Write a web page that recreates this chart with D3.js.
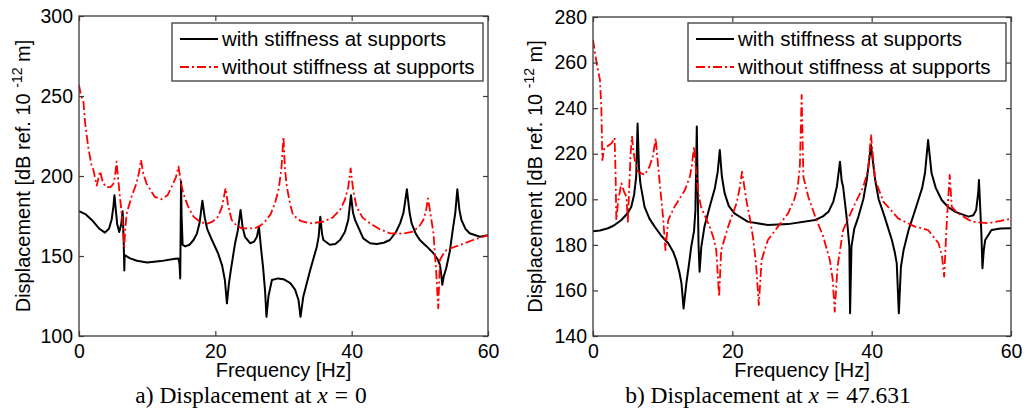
<!DOCTYPE html>
<html>
<head>
<meta charset="utf-8">
<script src="https://cdnjs.cloudflare.com/ajax/libs/d3/7.8.5/d3.min.js"></script>
<style>
  body { margin: 0; background: #fff; }
  text { font-family: "Liberation Sans", Arial, sans-serif; fill: #000; }
</style>
</head>
<body>
<div id="chart"></div>
<script>
// ---- data: [frequency Hz, displacement dB] ----
const xTicks = [0, 20, 40, 60];
const yTicksA = [100, 150, 200, 250, 300];
const yTicksB = [140, 160, 180, 200, 220, 240, 260, 280];
const legendLabels = ["with stiffness at supports", "without stiffness at supports"];

// a) x = 0, with stiffness
const withA = [[0,178],[1,176],[2,172],[3,167],[3.8,164.6],[4.4,167],[4.8,173],[5.05,181],[5.2,188],[5.35,181],[5.6,170],[5.9,165],[6.2,170],[6.4,178],[6.55,160],[6.65,141],[6.7,150.6],[7.5,148.5],[8.5,147],[10,146],[12,146.8],[14.1,148.3],[14.6,148.5],[14.75,145],[14.85,136],[14.92,170],[14.97,196.5],[15.05,175],[15.2,157],[15.6,156],[16.2,157],[16.8,160],[17.3,164],[17.7,171],[18.1,184.6],[18.45,174],[18.8,167],[19.5,160],[20.4,151.7],[21,144],[21.4,135],[21.7,120.4],[22,133],[22.3,142],[22.9,158],[23.3,166],[23.7,178.8],[24,168],[24.35,162],[25.1,158],[25.7,159],[26.1,162],[26.4,168.3],[26.7,155],[27,143],[27.3,128],[27.5,112],[27.8,125],[28.3,135],[29.2,136],[30,135.5],[31,133],[31.7,129],[32.2,122.5],[32.5,112],[32.9,124.6],[33.9,141],[34.9,156],[35.15,162],[35.4,174.6],[35.65,164],[35.85,160],[36.8,157],[37.6,157.5],[38.3,160],[39,165],[39.5,172.5],[39.9,188],[40.2,177],[40.5,172.5],[41.7,161],[42.7,158],[43.7,157.5],[44.7,158.3],[45.6,160],[46.5,165],[47.1,170.4],[47.6,177],[48.1,191.7],[48.5,177],[48.8,170.4],[49.4,164],[50,160],[51,156],[52,151.7],[52.6,148],[52.95,144.4],[53.15,138],[53.3,132],[53.5,137],[53.9,143],[54.4,153],[54.9,168.3],[55.2,177],[55.5,191.7],[55.8,179],[56.1,172.5],[56.7,167],[57.3,164.2],[58.8,162],[60,163]];

// a) x = 0, without stiffness
const withoutA = [[0,257],[0.3,250],[0.63,247.5],[0.9,233],[1.36,218],[1.86,206],[2.1,204],[2.6,194],[3.1,203],[3.5,196],[4,193],[4.6,193],[5.03,195],[5.3,200],[5.5,209],[5.75,198],[6,187],[6.3,175],[6.65,156],[6.8,168],[7,176.7],[7.7,187],[8.4,195],[8.8,202],[9.1,210],[9.4,202],[9.9,195.4],[11.1,187],[12.1,185.4],[13,188],[13.6,193.3],[14.2,199],[14.6,205.8],[14.95,196],[15.3,189],[16,181],[16.8,174.6],[17.7,171.5],[18.7,170],[19.6,171.5],[20.4,174.6],[21,181],[21.5,192.3],[21.9,181],[22.4,172.5],[23.1,169],[23.9,167.3],[25.8,167.3],[26.6,169],[27.3,171.6],[28.1,176],[28.75,183],[29.3,192],[29.7,205],[30,224.6],[30.2,205],[30.5,193],[31,182],[31.4,175.6],[32.5,172],[33.9,170.4],[35.8,171.4],[37.2,174],[38.3,178.8],[39,185],[39.5,193],[39.85,204.8],[40.2,192],[40.7,180.8],[41.6,174],[42.7,170.4],[44,167],[45.6,164.2],[47.5,164],[49,165.2],[50,169],[50.5,172.5],[50.9,178],[51.2,186],[51.5,178],[52,164.2],[52.4,140],[52.7,117.3],[52.95,147.5],[53.4,151],[53.9,153.8],[55.9,156.9],[57.8,160],[60,163]];

// b) x = 47.631, with stiffness
const withB = [[0,186],[1,186.3],[2.15,187.3],[3,188.5],[4.07,190.9],[5,194],[5.5,196.7],[5.9,202],[6.2,209.9],[6.4,233.3],[6.6,214],[6.8,207],[7.4,196.7],[8.1,191.5],[8.85,188],[9.8,184],[10.8,180.7],[11.5,177],[11.95,173.3],[12.4,168],[12.7,163.1],[13,152.1],[13.4,163.1],[13.8,172],[14.1,179.2],[14.5,186],[14.7,195],[14.9,231.9],[15.05,200],[15.15,180],[15.3,168.2],[15.55,179.2],[16,188],[16.75,196.7],[17.5,205],[17.9,212],[18.2,221.6],[18.5,210],[18.9,202.6],[19.5,197],[20.3,193.8],[22.2,190.2],[25.1,188.7],[28,189.1],[31.9,190.9],[33,192.5],[33.8,194.5],[34.5,199],[35,205.5],[35.45,216.5],[35.7,208],[35.9,205.5],[36.3,195],[36.55,188],[36.8,179.2],[36.9,150],[37.1,179.2],[37.5,187],[38.1,192.4],[38.8,200],[39.3,208.5],[39.9,223.8],[40.5,208.5],[41,200],[41.7,193.8],[42.3,188],[42.9,182.1],[43.3,177],[43.6,171.9],[43.9,150],[44.2,170.4],[44.6,178],[45.3,186.5],[46,193],[46.7,199.7],[47.25,205],[47.65,211.4],[48.1,226],[48.6,211.4],[49.2,205],[50.05,199.7],[51,196.5],[52,194.5],[53.9,192.4],[54.6,193],[55,195.3],[55.3,203],[55.4,208.5],[55.6,195],[55.75,185],[55.9,169.7],[56.1,178],[56.3,182.1],[57.2,186.5],[58.5,187.2],[60,187.3]];

// b) x = 47.631, without stiffness
const withoutB = [[0,270],[0.3,264],[0.53,259.7],[1,252.3],[1.2,240],[1.34,217.2],[1.6,222],[1.96,223.1],[2.68,224.6],[3.1,227],[3.25,210],[3.35,190.9],[3.6,199],[4.07,207],[4.5,203],[4.8,201.1],[5,190.2],[5.2,205],[5.4,220.2],[5.6,227.5],[5.8,221],[6,217.2],[6.46,212.1],[7.4,210.7],[8.1,214.3],[8.6,219],[9,226.8],[9.4,212.8],[10.05,192.4],[10.4,177.7],[10.8,190.9],[11.7,196.7],[13.2,204.1],[13.9,209.9],[14.2,215],[14.5,223.1],[14.8,212],[15.1,203],[15.5,196.7],[16.75,188],[17.3,183],[17.7,177.7],[18.1,157.2],[18.4,177.7],[19.4,188],[20.6,198.2],[21,204],[21.4,212.1],[22,199.7],[22.5,192],[22.95,183.6],[23.4,172],[23.8,153.6],[24.2,173.3],[25.1,182.1],[26.55,188],[28,193.8],[28.9,200],[29.4,205.5],[29.7,215],[29.95,245.8],[30.2,209.9],[30.9,201.1],[31.9,192.4],[33.05,183.6],[34,173.3],[34.4,165],[34.7,150.7],[35.1,170.4],[35.9,186.5],[37.4,196.7],[38.8,205.5],[39.5,213],[39.9,228.2],[40.5,208.5],[41.7,198.9],[43.8,191.6],[46.2,188],[48.1,186.5],[49.6,180.7],[50.1,175],[50.4,166],[50.8,190.9],[51.2,210.7],[51.5,196.7],[52.4,193.8],[54.35,190.2],[56.7,189.5],[58.5,190.5],[60,191.5]];

// ---- layout ----
const W = 1033, H = 415;
const svg = d3.select("#chart").append("svg")
  .attr("width", W)
  .attr("height", H)
  .style("display", "block");

svg.append("rect").attr("width", W).attr("height", H).attr("fill", "#fff");

const panels = [
  { left: 79, right: 488, top: 16, bottom: 336, yDomain: [100, 300], yTicks: yTicksA,
    lines: [withA, withoutA], labelX: 30, legendLeft: 172, legendRight: 483,
    caption: ["a) Displacement at ", "x", "=", "0"], captionX: 251 },
  { left: 593, right: 1011, top: 17, bottom: 336, yDomain: [140, 280], yTicks: yTicksB,
    lines: [withB, withoutB], labelX: 542, legendLeft: 688, legendRight: 1006,
    caption: ["b) Displacement at ", "x", "=", "47.631"], captionX: 768 }
];

const styles = [
  { color: "#000", width: 2, dash: null },
  { color: "#ff0000", width: 1.8, dash: "9,3,2,3" }
];

panels.forEach((p, i) => drawPanel(p, i));

function drawPanel(p, i) {
  const x = d3.scaleLinear().domain([0, 60]).range([p.left, p.right]);
  const y = d3.scaleLinear().domain(p.yDomain).range([p.bottom, p.top]);
  const g = svg.append("g");

  // clip for the curves
  g.append("clipPath").attr("id", "clip" + i)
    .append("rect")
    .attr("x", p.left).attr("y", p.top)
    .attr("width", p.right - p.left).attr("height", p.bottom - p.top);

  const line = d3.line().x(d => x(d[0])).y(d => y(d[1]));

  g.append("g").attr("clip-path", `url(#clip${i})`)
    .selectAll("path")
    .data(p.lines)
    .enter()
    .append("path")
    .attr("d", line)
    .attr("fill", "none")
    .attr("stroke", (d, k) => styles[k].color)
    .attr("stroke-width", (d, k) => styles[k].width)
    .attr("stroke-dasharray", (d, k) => styles[k].dash)
    .attr("stroke-linejoin", "round");

  // axes (ticks pointing inward, box on)
  const axisColor = "#3a3a3a";
  const bottom = g.append("g")
    .attr("transform", `translate(0,${p.bottom})`)
    .call(d3.axisBottom(x).tickValues(xTicks).tickSizeInner(-5).tickSizeOuter(0).tickPadding(8));
  const left = g.append("g")
    .attr("transform", `translate(${p.left},0)`)
    .call(d3.axisLeft(y).tickValues(p.yTicks).tickSizeInner(-5).tickSizeOuter(0).tickPadding(6));
  const top = g.append("g")
    .attr("transform", `translate(0,${p.top})`)
    .call(d3.axisTop(x).tickValues(xTicks).tickSizeInner(-5).tickSizeOuter(0).tickFormat(""));
  const right = g.append("g")
    .attr("transform", `translate(${p.right},0)`)
    .call(d3.axisRight(y).tickValues(p.yTicks).tickSizeInner(-5).tickSizeOuter(0).tickFormat(""));

  [bottom, left, top, right].forEach(a => {
    a.select(".domain").remove();
    a.selectAll("line").attr("stroke", axisColor).attr("stroke-width", 1.2);
    a.selectAll("text")
      .style("font-family", '"Liberation Sans", Arial, sans-serif')
      .style("font-size", "19.5px")
      .attr("fill", "#000");
  });

  g.append("rect")
    .attr("x", p.left).attr("y", p.top)
    .attr("width", p.right - p.left).attr("height", p.bottom - p.top)
    .attr("fill", "none")
    .attr("stroke", axisColor)
    .attr("stroke-width", 1.3);

  // axis labels
  g.append("text")
    .attr("x", (p.left + p.right) / 2)
    .attr("y", 377)
    .attr("text-anchor", "middle")
    .style("font-size", "20px")
    .text("Frequency [Hz]");

  const yl = g.append("text")
    .attr("transform", `translate(${p.labelX},${(p.top + p.bottom) / 2}) rotate(-90)`)
    .attr("text-anchor", "middle")
    .style("font-size", "20px");
  yl.append("tspan").text("Displacement [dB ref. 10 ");
  yl.append("tspan").attr("dy", -8).style("font-size", "14px").text("-12");
  yl.append("tspan").attr("dy", 8).text(" m]");

  // legend
  const lg = g.append("g");
  lg.append("rect")
    .attr("x", p.legendLeft).attr("y", 23)
    .attr("width", p.legendRight - p.legendLeft).attr("height", 58)
    .attr("fill", "#fff")
    .attr("stroke", axisColor)
    .attr("stroke-width", 1.3);

  legendLabels.forEach((lab, k) => {
    const ly = 39 + k * 28;
    lg.append("line")
      .attr("x1", p.legendLeft + 8).attr("x2", p.legendLeft + 46)
      .attr("y1", ly).attr("y2", ly)
      .attr("stroke", styles[k].color)
      .attr("stroke-width", styles[k].width)
      .attr("stroke-dasharray", styles[k].dash);
    lg.append("text")
      .attr("x", p.legendLeft + 50)
      .attr("y", ly + 7)
      .style("font-size", "20.5px")
      .text(lab);
  });

  // caption below the panel
  const cap = g.append("text")
    .attr("x", p.captionX)
    .attr("y", 403)
    .attr("text-anchor", "middle")
    .style("font-family", '"Liberation Serif", "Times New Roman", serif')
    .style("font-size", "23.5px");
  cap.append("tspan").text(p.caption[0]);
  cap.append("tspan").style("font-style", "italic").text(p.caption[1]);
  cap.append("tspan").attr("dx", 7).text(p.caption[2]);
  cap.append("tspan").attr("dx", 7).text(p.caption[3]);
}
</script>
</body>
</html>
